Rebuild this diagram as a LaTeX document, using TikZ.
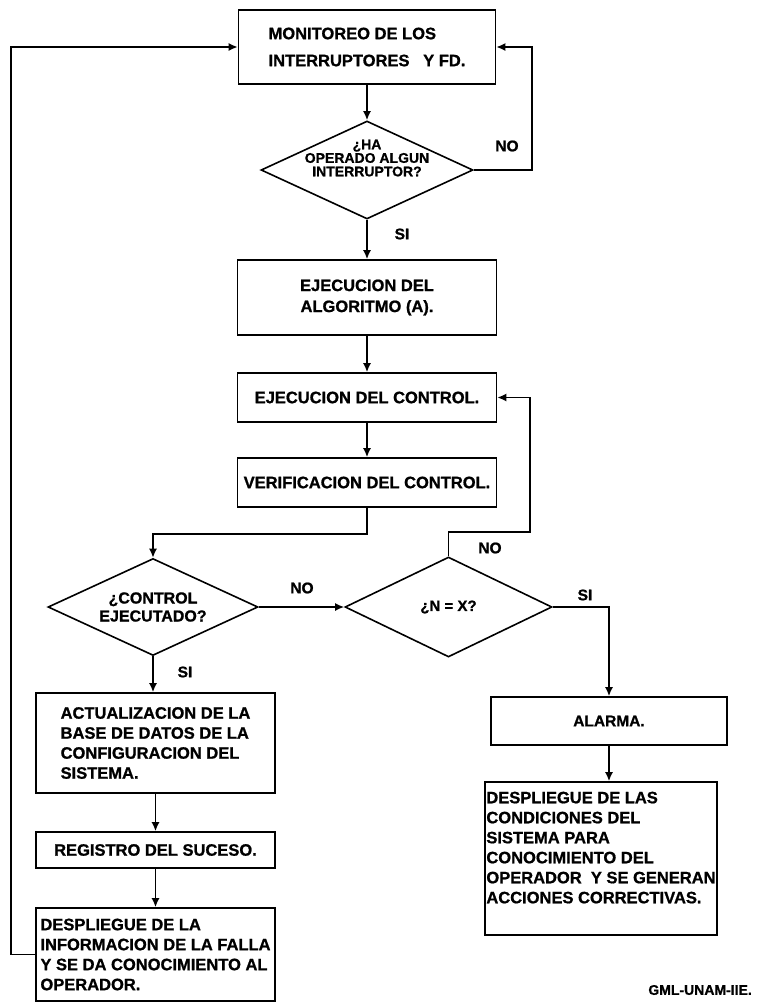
\documentclass[tikz,border=0pt]{standalone}
\usepackage{fontspec}
\setmainfont{Liberation Sans}[BoldFeatures={FakeBold=1}]
\usetikzlibrary{arrows.meta,positioning,shapes.geometric}
\tikzset{
  caja/.style={rectangle,draw,line width=1.6pt,inner sep=2pt,align=center,
    font=\bfseries\fontsize{16.5}{20}\selectfont},
  rombo/.style={diamond,draw,line width=1.6pt,inner sep=0pt,aspect=2.15,
    align=center,font=\bfseries\fontsize{16}{18}\selectfont},
  etiq/.style={inner sep=0pt,font=\bfseries\fontsize{15.5}{18}\selectfont},
  flecha/.style={-{Latex[length=9pt,width=8pt]},line width=1.6pt}
}
\begin{document}
\begin{tikzpicture}[x=1pt,y=-1pt]
  \useasboundingbox (0,0) rectangle (757,1007);
  \node[caja,minimum width=257pt,minimum height=74pt,align=left,
    font=\bfseries\fontsize{16.5}{27}\selectfont] (monitoreo) at (367,47)
    {MONITOREO DE LOS\\INTERRUPTORES~~~Y FD.};
  \node[rombo,minimum width=212pt,minimum height=98pt,inner ysep=-14pt,
    text depth=24pt,font=\bfseries\fontsize{14}{13.5}\selectfont]
    (opero) at (367,170) {¿HA\\OPERADO ALGUN\\INTERRUPTOR?};
  \node[caja,minimum width=259pt,minimum height=75pt,
    font=\bfseries\fontsize{16.5}{21}\selectfont] (algoritmo) at (367,297.5)
    {EJECUCION DEL\\ALGORITMO (A).};
  \node[caja,minimum width=259pt,minimum height=49pt] (ejecucion) at (367,397.5)
    {EJECUCION DEL CONTROL.};
  \node[caja,minimum width=259pt,minimum height=49pt] (verificacion) at (367,482.5)
    {VERIFICACION DEL CONTROL.};
  \node[rombo,minimum width=210pt,minimum height=97pt] (ejecutado) at (153,607)
    {¿CONTROL\\EJECUTADO?};
  \node[rombo,minimum width=207pt,minimum height=100pt,
    font=\bfseries\fontsize{15}{18}\selectfont] (intentos) at (448.5,607) {¿N = X?};
  \node[caja,minimum width=239pt,minimum height=100pt,align=left] (actualiza)
    at (155.5,743) {ACTUALIZACION DE LA\\BASE DE DATOS DE LA\\CONFIGURACION DEL\\SISTEMA.};
  \node[caja,minimum width=239pt,minimum height=36pt] (registro) at (155.5,850)
    {REGISTRO DEL SUCESO.};
  \node[caja,minimum width=239pt,minimum height=93pt,align=left,inner sep=1pt]
    (falla) at (155.5,954.5)
    {DESPLIEGUE DE LA\\INFORMACION DE LA FALLA\\Y SE DA CONOCIMIENTO AL\\OPERADOR.};
  \node[caja,minimum width=236pt,minimum height=48pt,
    font=\bfseries\fontsize{15.5}{20}\selectfont] (alarma) at (609,721) {ALARMA.};
  \node[caja,minimum width=232pt,minimum height=153pt,align=left,inner sep=1pt,
    text depth=22pt] (condiciones) at (601,858.5)
    {DESPLIEGUE DE LAS\\CONDICIONES DEL\\SISTEMA PARA\\CONOCIMIENTO DEL\\OPERADOR~~Y SE GENERAN\\ACCIONES CORRECTIVAS.};
  \node[etiq,anchor=east,font=\bfseries\fontsize{14}{16}\selectfont] (firma)
    at (752,990) {GML-UNAM-IIE.};
  \node[etiq] (no1) at (507,146) {NO};
  \node[etiq] (si1) at (402,234) {SI};
  \node[etiq] (no2) at (302,588) {NO};
  \node[etiq] (no3) at (490,548) {NO};
  \node[etiq] (si2) at (185,672) {SI};
  \node[etiq] (si3) at (585,595) {SI};
  \coordinate (vuelta) at (530,532);
  \draw[flecha] (monitoreo) -- (opero);
  \draw[flecha] (opero) -- (algoritmo);
  \draw[flecha] (algoritmo) -- (ejecucion);
  \draw[flecha] (ejecucion) -- (verificacion);
  \draw[flecha] (opero.east) -- ++(58,0) |- (monitoreo.east);
  \draw[flecha] (verificacion.south) -- ++(0,26) -| (ejecutado.north);
  \draw[flecha] (ejecutado) -- (intentos);
  \draw[flecha] (intentos.north) |- (vuelta) |- (ejecucion.east);
  \draw[flecha] (intentos.east) -| (alarma.north);
  \draw[flecha] (alarma) -- (alarma.south |- condiciones.north);
  \draw[flecha] (ejecutado.south) -- (ejecutado.south |- actualiza.north);
  \draw[flecha] (actualiza) -- (registro);
  \draw[flecha] (registro) -- (falla);
  \draw[flecha] (falla.west) -- ++(-24,0) |- (monitoreo.west);
\end{tikzpicture}
\end{document}
